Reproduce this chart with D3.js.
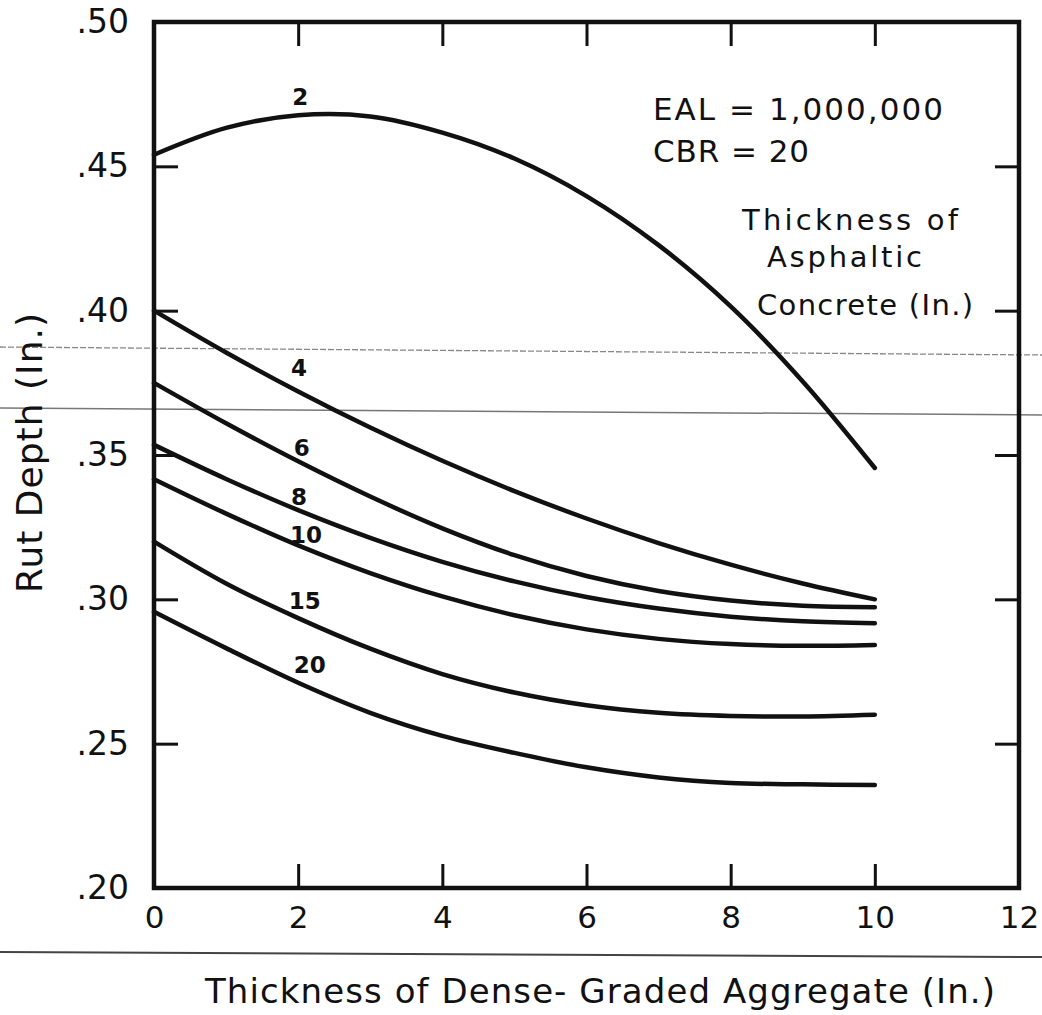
<!DOCTYPE html>
<html>
<head>
<meta charset="utf-8">
<script src="https://cdn.jsdelivr.net/npm/d3@7"></script>
<style>
  html, body { margin: 0; padding: 0; background: #fff; }
  svg { display: block; }
  text { font-family: "DejaVu Sans", sans-serif; fill: #111; }
</style>
</head>
<body>
<svg id="chart" width="1042" height="1015"></svg>
<script>
// ---- data ----
const aggThickness = [0, 1, 2, 3, 4, 5, 6, 7, 8, 9, 10];
const acThicknessLabels = ["2", "4", "6", "8", "10", "15", "20"];
const rutAC2  = [0.454, 0.4633, 0.4677, 0.4673, 0.4617, 0.4527, 0.4397, 0.4227, 0.4015, 0.3755, 0.3455];
const rutAC4  = [0.400, 0.3855, 0.372, 0.3595, 0.348, 0.3375, 0.328, 0.3195, 0.312, 0.3055, 0.300];
const rutAC6  = [0.375, 0.361, 0.3478, 0.3356, 0.3246, 0.3153, 0.3081, 0.3029, 0.2996, 0.2978, 0.2973];
const rutAC8  = [0.3535, 0.3417, 0.3309, 0.3213, 0.3130, 0.3062, 0.3008, 0.2968, 0.2940, 0.2924, 0.2917];
const rutAC10 = [0.3416, 0.3297, 0.3187, 0.3091, 0.3010, 0.2945, 0.2896, 0.2863, 0.2845, 0.2839, 0.2842];
const rutAC15 = [0.320, 0.3055, 0.2935, 0.2829, 0.2741, 0.2677, 0.2633, 0.2607, 0.2596, 0.2594, 0.2600];
const rutAC20 = [0.2957, 0.2831, 0.2711, 0.2607, 0.2527, 0.2468, 0.2418, 0.2383, 0.2364, 0.2359, 0.2357];
const seriesValues = [rutAC2, rutAC4, rutAC6, rutAC8, rutAC10, rutAC15, rutAC20];

const xTickValues = [0, 2, 4, 6, 8, 10, 12];
const xTickLabels = ["0", "2", "4", "6", "8", "10", "12"];
const yTickValues = [0.20, 0.25, 0.30, 0.35, 0.40, 0.45, 0.50];
const yTickLabels = [".20", ".25", ".30", ".35", ".40", ".45", ".50"];

const xTitle = "Thickness of Dense- Graded Aggregate (In.)";
const yTitle = "Rut Depth (In.)";
const noteLines = ["EAL = 1,000,000", "CBR = 20"];
const legendTitleLines = ["Thickness of", "Asphaltic", "Concrete (In.)"];

// ---- layout ----
const svg = d3.select("#chart");
const pL = 154, pR = 1019, pT = 22, pB = 888;
const x = d3.scaleLinear().domain([0, 12]).range([pL, pR]);
const y = d3.scaleLinear().domain([0.20, 0.50]).range([pB, pT]);

// scan artefact lines of the source page
const artefacts = svg.append("g").attr("stroke", "#777").attr("fill", "none");
artefacts.append("line").attr("x1", 0).attr("y1", 347).attr("x2", 1042).attr("y2", 355)
  .attr("stroke-width", 1.3).attr("stroke-dasharray", "6,2").attr("stroke", "#888");
artefacts.append("line").attr("x1", 0).attr("y1", 408).attr("x2", 1042).attr("y2", 415)
  .attr("stroke-width", 1.5);
artefacts.append("line").attr("x1", 0).attr("y1", 952).attr("x2", 1042).attr("y2", 957)
  .attr("stroke-width", 2).attr("stroke", "#444");

// inward ticks via d3 axes
const innerX = xTickValues.filter(v => v > 0 && v < 12);
const innerY = yTickValues.filter(v => v > 0.2 && v < 0.5);
const tickLen = 24;
function styleTicks(g) {
  g.select(".domain").remove();
  g.selectAll(".tick line").attr("stroke", "#111").attr("stroke-width", 3);
  g.selectAll(".tick text").remove();
}
svg.append("g").attr("transform", `translate(0,${pB})`)
  .call(d3.axisBottom(x).tickValues(innerX).tickSize(-tickLen)).call(styleTicks);
svg.append("g").attr("transform", `translate(0,${pT})`)
  .call(d3.axisTop(x).tickValues(innerX).tickSize(-tickLen)).call(styleTicks);
svg.append("g").attr("transform", `translate(${pL},0)`)
  .call(d3.axisLeft(y).tickValues(innerY).tickSize(-tickLen)).call(styleTicks);
svg.append("g").attr("transform", `translate(${pR},0)`)
  .call(d3.axisRight(y).tickValues(innerY).tickSize(-tickLen)).call(styleTicks);

// tick labels via axes
const xLab = svg.append("g").attr("transform", `translate(0,${pB})`)
  .call(d3.axisBottom(x).tickValues(xTickValues).tickSize(0).tickPadding(18)
    .tickFormat((d, i) => xTickLabels[i]));
xLab.select(".domain").remove();
xLab.selectAll("text").attr("font-size", 31).attr("font-family", "DejaVu Sans").attr("fill", "#111");

const yLab = svg.append("g").attr("transform", `translate(${pL},0)`)
  .call(d3.axisLeft(y).tickValues(yTickValues).tickSize(0).tickPadding(25)
    .tickFormat((d, i) => yTickLabels[i]));
yLab.select(".domain").remove();
yLab.selectAll("text").attr("font-size", 33).attr("font-family", "DejaVu Sans").attr("fill", "#111");

// frame
svg.append("rect").attr("x", pL).attr("y", pT)
  .attr("width", pR - pL).attr("height", pB - pT)
  .attr("fill", "none").attr("stroke", "#111").attr("stroke-width", 4.5);

// curves
const line = d3.line()
  .x((d, i) => x(aggThickness[i]))
  .y(d => y(d))
  .curve(d3.curveCatmullRom.alpha(0.5));
svg.append("g").selectAll("path").data(seriesValues).join("path")
  .attr("d", d => line(d))
  .attr("fill", "none").attr("stroke", "#111").attr("stroke-width", 4.5)
  .attr("stroke-linecap", "round");

// curve labels (anchor in data units)
const labelAnchors = [[2.03, 0.474], [2.01, 0.3802], [2.05, 0.3524], [2.01, 0.3355],
                      [2.11, 0.3223], [2.09, 0.2994], [2.16, 0.2773]];
svg.append("g").selectAll("text").data(acThicknessLabels).join("text")
  .attr("x", (d, i) => x(labelAnchors[i][0]))
  .attr("y", (d, i) => y(labelAnchors[i][1]))
  .attr("dy", "0.36em")
  .attr("text-anchor", "middle")
  .attr("font-size", 23).attr("font-weight", "bold")
  .text(d => d);

// annotation
svg.append("text").attr("x", 653).attr("y", 120).attr("font-size", 31)
  .attr("textLength", 290).attr("lengthAdjust", "spacing").text(noteLines[0]);
svg.append("text").attr("x", 653).attr("y", 162).attr("font-size", 31)
  .attr("textLength", 156).attr("lengthAdjust", "spacing").text(noteLines[1]);
const legendX = [742, 767, 757], legendY = [230, 267, 315], legendW = [216, 155, 216];
legendTitleLines.forEach((t, i) => {
  svg.append("text").attr("x", legendX[i]).attr("y", legendY[i]).attr("font-size", 29)
    .attr("textLength", legendW[i]).attr("lengthAdjust", "spacing").text(t);
});

// axis titles
svg.append("text").attr("x", 205).attr("y", 1003).attr("font-size", 34)
  .attr("textLength", 790).attr("lengthAdjust", "spacing").text(xTitle);
svg.append("text").attr("transform", "translate(42,453) rotate(-90)")
  .attr("text-anchor", "middle").attr("font-size", 36)
  .attr("textLength", 280).attr("lengthAdjust", "spacing").text(yTitle);
</script>
</body>
</html>
